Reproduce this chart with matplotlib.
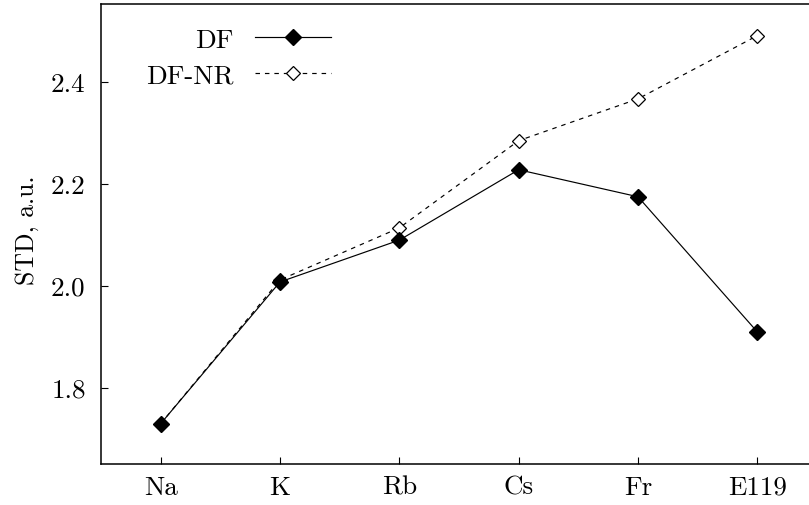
import numpy as np
import matplotlib
matplotlib.use('Agg')
import matplotlib.pyplot as plt

# Datos
elementos = ['Na', 'K', 'Rb', 'Cs', 'Fr', 'E119']
std_df = [1.729, 2.007, 2.089, 2.227, 2.174, 1.909]
std_dfnr = [1.729, 2.011, 2.113, 2.284, 2.366, 2.490]
yticks = [1.8, 2.0, 2.2, 2.4]

plt.rcParams['font.family'] = 'serif'
plt.rcParams['font.serif'] = ['cmr10', 'DejaVu Serif']
plt.rcParams['mathtext.fontset'] = 'cm'
plt.rcParams['axes.formatter.use_mathtext'] = True
fs = 19.5

fig = plt.figure(figsize=(8.09, 5.06), dpi=100)
# el eje se sale por la derecha (figura recortada)
ax = fig.add_axes([101 / 809, 41 / 506, 716 / 809, 460 / 506])

x = np.arange(len(elementos))
ax.plot(x, std_dfnr, color='black', lw=0.85, dashes=(3.8, 4.2),
        marker='D', ms=7.6, mfc='white', mec='black', mew=0.9, label='DF-NR')
ax.plot(x, std_df, '-', color='black', lw=0.85,
        marker='D', ms=8.0, mfc='black', mec='black', label='DF')

ax.set_xlim(-0.5, 5.5)
ax.set_ylim(1.65, 2.552)
ax.set_xticks(x)
ax.set_xticklabels(elementos)
ax.set_yticks(yticks)
ax.set_yticklabels(['%.1f' % v for v in yticks])
ax.set_ylabel('STD, a.u.', fontsize=18.5)
ax.yaxis.set_label_coords(-0.086, 0.51)

ax.tick_params(axis='both', direction='in', length=5, width=0.8, labelsize=fs)
ax.tick_params(axis='y', pad=11)
ax.tick_params(axis='x', pad=8)
for s in ['left', 'bottom', 'top']:
    ax.spines[s].set_linewidth(1.1)
ax.spines['right'].set_visible(False)

h, l = ax.get_legend_handles_labels()
leg = ax.legend(h[::-1], l[::-1], loc='upper right', bbox_to_anchor=(331 / 809, 1 - 29 / 506),
                bbox_transform=fig.transFigure, frameon=False, markerfirst=False,
                fontsize=fs, handlelength=2.8, handletextpad=0.8, labelspacing=0.42,
                borderpad=0, borderaxespad=0)

fig.savefig('out.png', dpi=100)
